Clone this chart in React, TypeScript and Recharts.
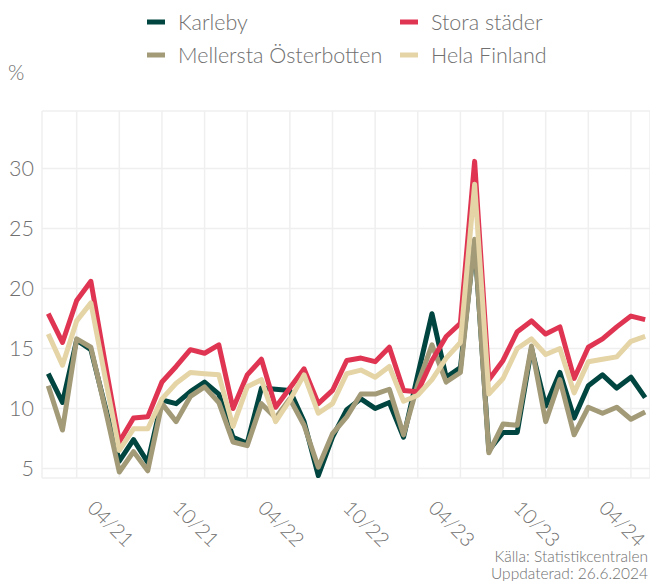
import { LineChart, Line, XAxis, YAxis, CartesianGrid } from "recharts";

const months = [
  "11/20", "12/20",
  "01/21", "02/21", "03/21", "04/21", "05/21", "06/21", "07/21", "08/21", "09/21", "10/21", "11/21", "12/21",
  "01/22", "02/22", "03/22", "04/22", "05/22", "06/22", "07/22", "08/22", "09/22", "10/22", "11/22", "12/22",
  "01/23", "02/23", "03/23", "04/23", "05/23", "06/23", "07/23", "08/23", "09/23", "10/23", "11/23", "12/23",
  "01/24", "02/24", "03/24", "04/24", "05/24",
];

const tickLabels = ["04/21", "10/21", "04/22", "10/22", "04/23", "10/23", "04/24"];

const karleby = [
  12.9, 10.5, 15.7, 14.9, 10.2, 5.6, 7.4, 5.5, 10.7, 10.4,
  11.4, 12.2, 11.2, 7.6, 7.1, 11.7, 11.6, 11.5, 8.9, 4.4,
  7.6, 9.9, 10.8, 10.0, 10.5, 7.6, 12.8, 17.9, 12.6, 13.4,
  24.0, 6.5, 8.0, 8.0, 15.0, 10.2, 13.0, 9.2, 11.9, 12.8,
  11.7, 12.6, 10.9,
];

const mellersta = [
  11.9, 8.2, 15.8, 15.1, 10.0, 4.7, 6.4, 4.8, 10.4, 8.9,
  11.0, 11.8, 10.5, 7.2, 6.9, 10.4, 9.2, 10.8, 8.6, 5.1,
  7.9, 9.3, 11.2, 11.2, 11.6, 7.8, 12.0, 15.3, 12.2, 13.0,
  24.1, 6.3, 8.7, 8.6, 15.2, 8.9, 12.4, 7.8, 10.1, 9.6,
  10.1, 9.1, 9.7,
];

const storaStader = [
  17.9, 15.5, 19.0, 20.6, 13.8, 7.2, 9.2, 9.3, 12.2, 13.5,
  14.9, 14.6, 15.3, 10.0, 12.8, 14.1, 10.1, 11.7, 13.3, 10.4,
  11.5, 14.0, 14.2, 13.9, 15.1, 11.5, 11.4, 14.0, 16.0, 17.1,
  30.6, 12.4, 14.0, 16.4, 17.3, 16.2, 16.8, 12.5, 15.1, 15.8,
  16.8, 17.7, 17.4,
];

const helaFinland = [
  16.2, 13.6, 17.3, 18.8, 12.6, 6.5, 8.3, 8.3, 10.8, 12.1,
  13.0, 12.9, 12.8, 8.5, 11.8, 12.4, 8.9, 10.7, 12.8, 9.6,
  10.4, 12.9, 13.2, 12.6, 13.5, 10.6, 11.1, 12.4, 14.2, 15.5,
  28.7, 11.2, 12.5, 15.0, 15.8, 14.5, 15.0, 11.3, 13.9, 14.1,
  14.3, 15.6, 16.0,
];

const yTicks = [5, 10, 15, 20, 25, 30];

const series = [
  { key: "karleby", name: "Karleby", color: "#00453F" },
  { key: "mellersta", name: "Mellersta Österbotten", color: "#A39A78" },
  { key: "stora", name: "Stora städer", color: "#E03552" },
  { key: "hela", name: "Hela Finland", color: "#E4D4A6" },
];

const data = months.map((m, i) => ({
  i,
  month: m,
  karleby: karleby[i],
  mellersta: mellersta[i],
  stora: storaStader[i],
  hela: helaFinland[i],
}));

// grid every quarter, labels every half year
const gridTicks = months
  .map((m, i) => (["01", "04", "07", "10"].includes(m.slice(0, 2)) ? i : -1))
  .filter((i) => i >= 0);

const FONT = "Lato, 'Open Sans', sans-serif";
const GREY = "#707070";

function MonthTick(props: any) {
  const { x, y, payload } = props;
  const label = months[payload.value];
  if (!tickLabels.includes(label)) return null;
  return (
    <g transform={`translate(${x - 8},${y + 37})`}>
      <text
        transform="rotate(45)"
        textAnchor="middle"
        dominantBaseline="central"
        fill={GREY}
        fontSize={20}
        fontWeight={300}
        fontFamily={FONT}
      >
        {label}
      </text>
    </g>
  );
}

function LegendBox() {
  const rows = [
    [series[0], series[2]],
    [series[1], series[3]],
  ];
  const cols = [147, 400];
  const rowY = [22, 55];
  return (
    <svg width={650} height={80} style={{ position: "absolute", left: 0, top: 0 }}>
      {rows.map((r, ri) =>
        r.map((s, ci) => (
          <g key={s.key}>
            <line
              x1={cols[ci]}
              x2={cols[ci] + 18}
              y1={rowY[ri]}
              y2={rowY[ri]}
              stroke={s.color}
              strokeWidth={5}
            />
            <text
              x={cols[ci] + 31}
              y={rowY[ri]}
              dominantBaseline="central"
              fontSize={21.5}
              fontWeight={300}
              fontFamily={FONT}
              fill={GREY}
            >
              {s.name}
            </text>
          </g>
        ))
      )}
    </svg>
  );
}

const captionStyle = {
  position: "absolute" as const,
  right: 2,
  fontFamily: FONT,
  fontSize: 15.5,
  fontWeight: 300,
  lineHeight: "16px",
  color: GREY,
  textAlign: "right" as const,
  whiteSpace: "nowrap" as const,
};

export default function App() {
  return (
    <div style={{ position: "absolute", left: 0, top: 0, width: 650, height: 581, background: "#fff" }}>
      <LineChart
        width={650}
        height={581}
        data={data}
        margin={{ top: 111, right: 0, bottom: 0, left: 0 }}
      >
        <CartesianGrid stroke="#efefef" strokeWidth={1.5} />
        <XAxis
          type="number"
          dataKey="i"
          domain={[-0.44, 42.34]}
          ticks={gridTicks}
          interval={0}
          height={103}
          axisLine={false}
          tickLine={false}
          tick={<MonthTick />}
        />
        <YAxis
          type="number"
          domain={[4.2, 34.8]}
          ticks={yTicks}
          width={42}
          allowDataOverflow
          axisLine={false}
          tickLine={false}
          tick={{ fill: GREY, fontSize: 21.5, fontWeight: 300, fontFamily: FONT }}
        />
        {series.map((s) => (
          <Line
            key={s.key}
            type="linear"
            dataKey={s.key}
            name={s.name}
            stroke={s.color}
            strokeWidth={5}
            strokeLinejoin="round"
            dot={false}
            activeDot={false}
            isAnimationActive={false}
          />
        ))}
      </LineChart>
      <LegendBox />
      <div
        style={{
          position: "absolute",
          left: 8,
          top: 59,
          fontFamily: FONT,
          fontSize: 21,
          fontWeight: 300,
          color: GREY,
        }}
      >
        %
      </div>
      <div style={{ ...captionStyle, top: 548 }}>Källa: Statistikcentralen</div>
      <div style={{ ...captionStyle, top: 565 }}>Uppdaterad: 26.6.2024</div>
    </div>
  );
}
